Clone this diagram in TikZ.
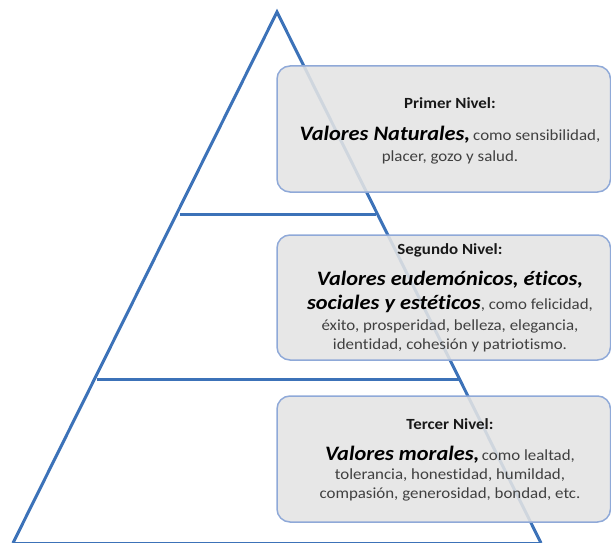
\documentclass[tikz,border=0pt]{standalone}
\usepackage{fontspec}
\setmainfont{Carlito}[FakeStretch=1.09, Ligatures={NoCommon,NoRare,NoContextual}]
\definecolor{triblue}{HTML}{3C72B8}
\definecolor{boxline}{HTML}{8FA9D8}
\definecolor{boxfill}{HTML}{E4E4E4}
\definecolor{txtgray}{HTML}{404040}
\newcommand{\bigf}{\fontsize{20.5}{24}\selectfont\bfseries\itshape\color{black}}
\newcommand{\regf}{\fontsize{15.5}{18}\selectfont\mdseries\upshape\color{txtgray}}
\tikzset{
  tri/.style={draw=triblue, line width=3pt, line join=miter},
  infobox/.style={draw=boxline, line width=1.5pt, fill=boxfill, fill opacity=0.88, rounded corners=13pt},
  ttl/.style={anchor=base, inner sep=0pt, font=\fontsize{15.5}{18}\selectfont\bfseries, text=black!90},
  big/.style={anchor=base, inner sep=0pt, font=\bigf},
  mix/.style={anchor=base, inner sep=0pt},
  reg/.style={anchor=base, inner sep=0pt, font=\regf, text=txtgray}
}
\begin{document}
\begin{tikzpicture}[x=1pt,y=-1pt]
\useasboundingbox (0,0) rectangle (611,543);
% pyramid
\coordinate (apex) at (277,12);
\coordinate (bl) at (13,543);
\coordinate (br) at (541,543);
\draw[tri] (bl) -- (apex) -- (br);
\draw[tri, line width=2.5pt] (bl) -- (br);
\coordinate (l1a) at (180,214.5);
\coordinate (l1b) at (376,214.5);
\coordinate (l2a) at (97,379);
\coordinate (l2b) at (459,379);
\draw[tri] (l1a) -- (l1b);
\draw[tri] (l2a) -- (l2b);
% boxes
\draw[infobox] (277,66) rectangle (610.5,192);
\draw[infobox] (277,235) rectangle (610.5,360);
\draw[infobox] (277,396) rectangle (610.5,522);
% level 1
\node[ttl] (t1) at (450,109) {Primer Nivel:};
\node[mix] (b1) at (450,140) {{\bigf Valores Naturales,}\hspace{0.3em}{\regf como sensibilidad,}};
\node[reg] (c1) at (450,161) {placer, gozo y salud.};
% level 2
\node[ttl] (t2) at (450,254.5) {Segundo Nivel:};
\node[big] (b2) at (450,285.5) {Valores eudemónicos, éticos,};
\node[mix] (b2b) at (450,309) {{\bigf sociales y estéticos}{\regf, como felicidad,}};
\node[reg] (c2) at (450,330) {éxito, prosperidad, belleza, elegancia,};
\node[reg] (d2) at (450,349) {identidad, cohesión y patriotismo.};
% level 3
\node[ttl] (t3) at (450,429) {Tercer Nivel:};
\node[mix] (b3) at (450,460) {{\bigf Valores morales,}\hspace{0.25em}{\regf como lealtad,}};
\node[reg] (c3) at (450,479.5) {tolerancia, honestidad, humildad,};
\node[reg] (d3) at (450,498.5) {compasión, generosidad, bondad, etc.};
\end{tikzpicture}
\end{document}
